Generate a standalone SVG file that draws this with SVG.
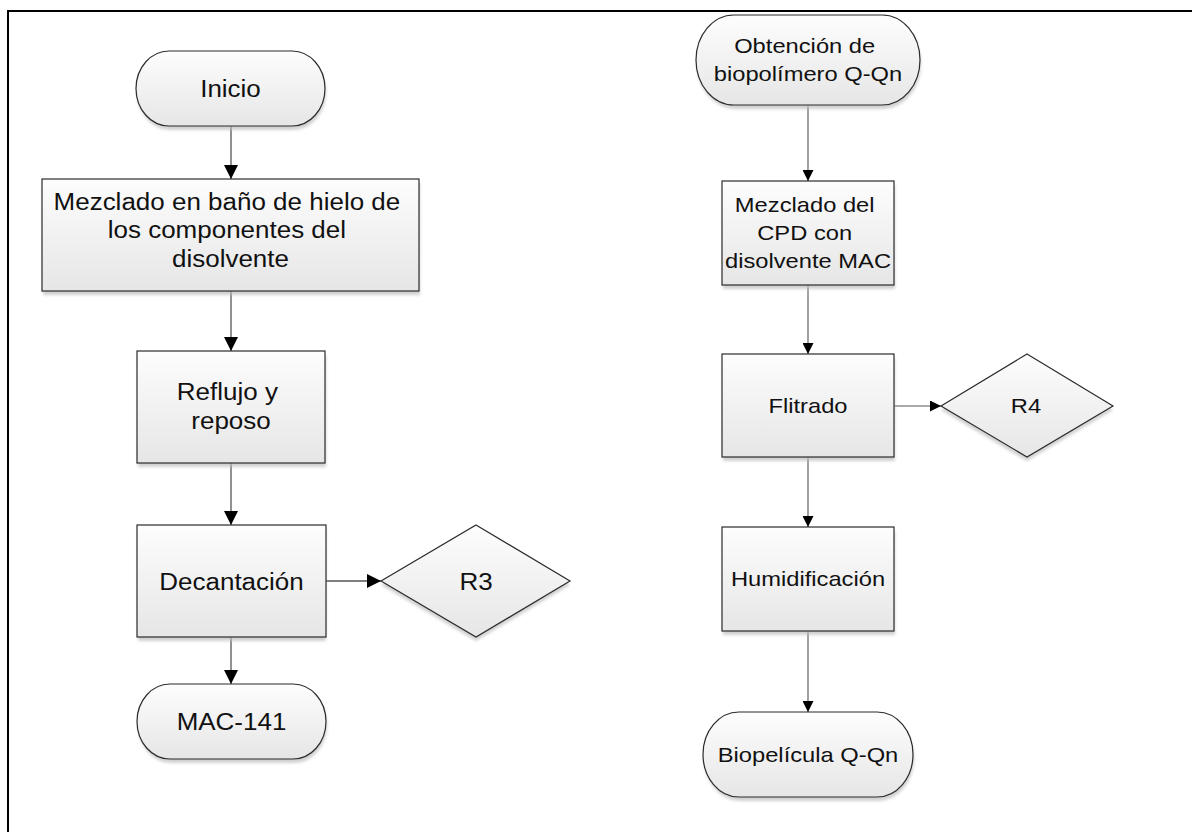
<svg xmlns="http://www.w3.org/2000/svg" width="1192" height="832" viewBox="0 0 1192 832">
  <defs>
    <linearGradient id="fillGrad" x1="0" y1="0" x2="0" y2="1">
      <stop offset="0" stop-color="#fdfdfd"/>
      <stop offset="1" stop-color="#e6e6e6"/>
    </linearGradient>
    <filter id="soft" x="-10%" y="-10%" width="120%" height="130%">
      <feGaussianBlur stdDeviation="1.6"/>
    </filter>
    <marker id="arrowBig" markerWidth="14" markerHeight="14" refX="14" refY="7" orient="auto" markerUnits="userSpaceOnUse">
      <path d="M0,0 L14,7 L0,14 z" fill="#000"/>
    </marker>
    <marker id="arrowSmall" markerWidth="11" markerHeight="11" refX="11" refY="5.5" orient="auto" markerUnits="userSpaceOnUse">
      <path d="M0,0 L11,5.5 L0,11 z" fill="#000"/>
    </marker>
  </defs>
  <style>
    .shape { fill: url(#fillGrad); stroke: #2b2b2b; stroke-width: 1.2; }
    .shadow { fill: #bdbdbd; opacity: 0.7; filter: url(#soft); }
    .lbl { font-family: "Liberation Sans", Arial, sans-serif; fill: #111; text-anchor: middle; }
    .lg { font-size: 23px; }
    .sm { font-size: 21px; }
    .conL { fill: none; stroke: #555; stroke-width: 1.3; marker-end: url(#arrowBig); }
    .conR { fill: none; stroke: #555; stroke-width: 1.1; marker-end: url(#arrowSmall); }
  </style>

  <rect width="1192" height="832" fill="#fff"/>
  <!-- outer frame -->
  <rect x="8" y="11" width="1220" height="880" fill="none" stroke="#000" stroke-width="2"/>

  <!-- connectors -->
  <g id="connectors">
    <path class="conL" d="M231,126 L231,179"/>
    <path class="conL" d="M231,291 L231,351"/>
    <path class="conL" d="M231,463 L231,525"/>
    <path class="conL" d="M231,637 L231,684"/>
    <path class="conL" d="M326,581 L381,581"/>
    <path class="conR" d="M808,105 L808,181"/>
    <path class="conR" d="M808,285 L808,354"/>
    <path class="conR" d="M808,457 L808,527"/>
    <path class="conR" d="M808,631 L808,712"/>
    <path class="conR" d="M894,406 L941,406"/>
  </g>

  <!-- left column -->
  <g id="inicio">
    <rect class="shadow" x="137" y="55" width="189" height="75" rx="33" ry="37.5"/>
    <rect class="shape" x="136" y="51" width="189" height="75" rx="33" ry="37.5"/>
    <text class="lbl lg" transform="translate(230.5,0) scale(1.13,1)" x="0" y="97">Inicio</text>
  </g>

  <g id="mezclado-hielo">
    <rect class="shadow" x="43" y="183" width="377" height="112"/>
    <rect class="shape" x="42" y="179" width="377" height="112"/>
    <text class="lbl lg" transform="translate(230.5,0) scale(1.13,1)">
      <tspan x="0" y="210">Mezclado en baño de hielo de</tspan>
      <tspan x="0" y="238.3">los componentes del</tspan>
      <tspan x="0" y="266.6">disolvente</tspan>
    </text>
  </g>

  <g id="reflujo">
    <rect class="shadow" x="138" y="355" width="188" height="112"/>
    <rect class="shape" x="137" y="351" width="188" height="112"/>
    <text class="lbl lg" transform="translate(231,0) scale(1.13,1)">
      <tspan x="0" y="400.5">Reflujo y</tspan>
      <tspan x="0" y="429">reposo</tspan>
    </text>
  </g>

  <g id="decantacion">
    <rect class="shadow" x="138" y="529" width="188" height="112"/>
    <rect class="shape" x="137" y="525" width="189" height="112"/>
    <text class="lbl lg" transform="translate(231.5,0) scale(1.13,1)" x="0" y="590">Decantación</text>
  </g>

  <g id="r3">
    <polygon class="shadow" points="476,529 570,585 476,641 381,585"/>
    <polygon class="shape" points="476,525 570,581 476,637 381,581"/>
    <text class="lbl lg" transform="translate(476,0) scale(1.13,1)" x="0" y="590">R3</text>
  </g>

  <g id="mac141">
    <rect class="shadow" x="138" y="688" width="189" height="75" rx="33" ry="37.5"/>
    <rect class="shape" x="137" y="684" width="189" height="75" rx="33" ry="37.5"/>
    <text class="lbl lg" transform="translate(231.5,0) scale(1.13,1)" x="0" y="730">MAC-141</text>
  </g>

  <!-- right column -->
  <g id="obtencion">
    <rect class="shadow" x="697" y="19" width="224" height="90" rx="38" ry="45"/>
    <rect class="shape" x="696" y="15" width="224" height="90" rx="38" ry="45"/>
    <text class="lbl sm" transform="translate(808,0) scale(1.13,1)">
      <tspan x="0" y="53.5">Obtención de</tspan>
      <tspan x="0" y="81.2">biopolímero Q-Qn</tspan>
    </text>
  </g>

  <g id="mezclado-cpd">
    <rect class="shadow" x="723" y="185" width="172" height="104"/>
    <rect class="shape" x="722" y="181" width="172" height="104"/>
    <text class="lbl sm" transform="translate(808,0) scale(1.13,1)">
      <tspan x="0" y="212.3">Mezclado del</tspan>
      <tspan x="0" y="240">CPD con</tspan>
      <tspan x="0" y="267.7">disolvente MAC</tspan>
    </text>
  </g>

  <g id="filtrado">
    <rect class="shadow" x="723" y="358" width="172" height="103"/>
    <rect class="shape" x="722" y="354" width="172" height="103"/>
    <text class="lbl sm" transform="translate(808,0) scale(1.13,1)" x="0" y="413">Flitrado</text>
  </g>

  <g id="r4">
    <polygon class="shadow" points="1027,358 1113,410 1027,461 941,410"/>
    <polygon class="shape" points="1027,354 1113,406 1027,457 941,406"/>
    <text class="lbl sm" transform="translate(1026,0) scale(1.13,1)" x="0" y="413">R4</text>
  </g>

  <g id="humidificacion">
    <rect class="shadow" x="723" y="531" width="172" height="104"/>
    <rect class="shape" x="722" y="527" width="172" height="104"/>
    <text class="lbl sm" transform="translate(808,0) scale(1.13,1)" x="0" y="586.5">Humidificación</text>
  </g>

  <g id="biopelicula">
    <rect class="shadow" x="704" y="716" width="210" height="85" rx="36" ry="42.5"/>
    <rect class="shape" x="703" y="712" width="210" height="85" rx="36" ry="42.5"/>
    <text class="lbl sm" transform="translate(808,0) scale(1.13,1)" x="0" y="762">Biopelícula Q-Qn</text>
  </g>
</svg>
